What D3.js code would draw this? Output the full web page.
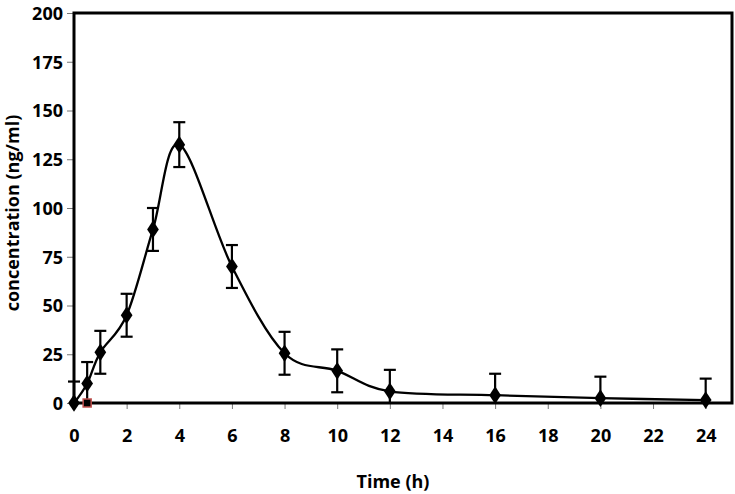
<!DOCTYPE html>
<html><head><meta charset="utf-8">
<script src="https://cdn.jsdelivr.net/npm/d3@7"></script>
<style>body{margin:0;background:#fff}svg{display:block}</style>
</head><body>
<svg id="c" width="735" height="494"></svg>
<script>
const times = [0, 0.5, 1, 2, 3, 4, 6, 8, 10, 12, 16, 20, 24];
const conc  = [0, 10, 26, 45, 89, 132.5, 70, 25.5, 16.5, 6, 4, 2.5, 1.5];
const sd    = [11, 11, 11, 11, 11, 11.5, 11, 11, 11, 11, 11, 11, 11];
const extraTimes = [0.5];
const extraConc = [0];
const xTicks = [0,2,4,6,8,10,12,14,16,18,20,22,24];
const yTicks = [0,25,50,75,100,125,150,175,200];

const svg = d3.select("#c");
const L=74, R=732, T=13, B=403;
const x = d3.scaleLinear().domain([0,25]).range([L,R]);
const y = d3.scaleLinear().domain([0,200]).range([B,T]);
const font = "'Open Sans', sans-serif";

// ticks
const xa = svg.append("g").attr("transform",`translate(0,${B})`)
  .call(d3.axisBottom(x).tickValues(xTicks).tickSize(6).tickPadding(20).tickFormat(d3.format("d")));
const ya = svg.append("g").attr("transform",`translate(${L},0)`)
  .call(d3.axisLeft(y).tickValues(yTicks).tickSize(7).tickPadding(4).tickFormat(d3.format("d")));
[xa,ya].forEach(a=>{
  a.select(".domain").remove();
  a.selectAll(".tick line").attr("stroke","#777").attr("stroke-width",1);
  a.selectAll(".tick text").attr("font-family",font).attr("font-weight","bold")
    .attr("font-size","18px").attr("fill","#000");
});
ya.selectAll(".tick text").attr("dy","0.35em");

// frame
svg.append("rect").attr("x",L).attr("y",T).attr("width",R-L).attr("height",B-T)
  .attr("fill","none").attr("stroke","#000").attr("stroke-width",3);

// error bars
const eb = svg.append("g").attr("stroke","#000").attr("stroke-width",2.2);
times.forEach((t,i)=>{
  const hi = conc[i]+sd[i], lo = Math.max(0, conc[i]-sd[i]);
  eb.append("line").attr("x1",x(t)).attr("x2",x(t)).attr("y1",y(hi)).attr("y2",y(lo));
  eb.append("line").attr("x1",x(t)-6).attr("x2",x(t)+6).attr("y1",y(hi)).attr("y2",y(hi));
  if (conc[i]-sd[i] > 0)
    eb.append("line").attr("x1",x(t)-6).attr("x2",x(t)+6).attr("y1",y(lo)).attr("y2",y(lo));
});

// smooth line
const line = d3.line().x((d,i)=>x(times[i])).y(d=>y(d)).curve(d3.curveCardinal.tension(0));
svg.append("path").datum(conc).attr("d",line).attr("fill","none")
  .attr("stroke","#000").attr("stroke-width",2.3);

// markers
svg.append("g").selectAll("path").data(conc).join("path")
  .attr("d", d3.symbol().type(d3.symbolDiamond).size(90))
  .attr("transform",(d,i)=>`translate(${x(times[i])},${y(d)}) scale(1.15,1)`)
  .attr("fill","#000");

// extra square
svg.append("g").selectAll("rect").data(extraConc).join("rect")
  .attr("x",(d,i)=>x(extraTimes[i])-4).attr("y",d=>y(d)-4)
  .attr("width",8).attr("height",8).attr("fill","#000")
  .attr("stroke","#c0504d").attr("stroke-width",1.5);

// titles
svg.append("text").attr("x",393).attr("y",488).attr("text-anchor","middle")
  .attr("font-family",font).attr("font-weight","bold").attr("font-size","18px").text("Time (h)");
svg.append("text").attr("transform",`translate(19,213) rotate(-90)`)
  .attr("text-anchor","middle").attr("font-family",font).attr("font-weight","bold")
  .attr("font-size","18px").text("concentration (ng/ml)");
</script>
</body></html>
